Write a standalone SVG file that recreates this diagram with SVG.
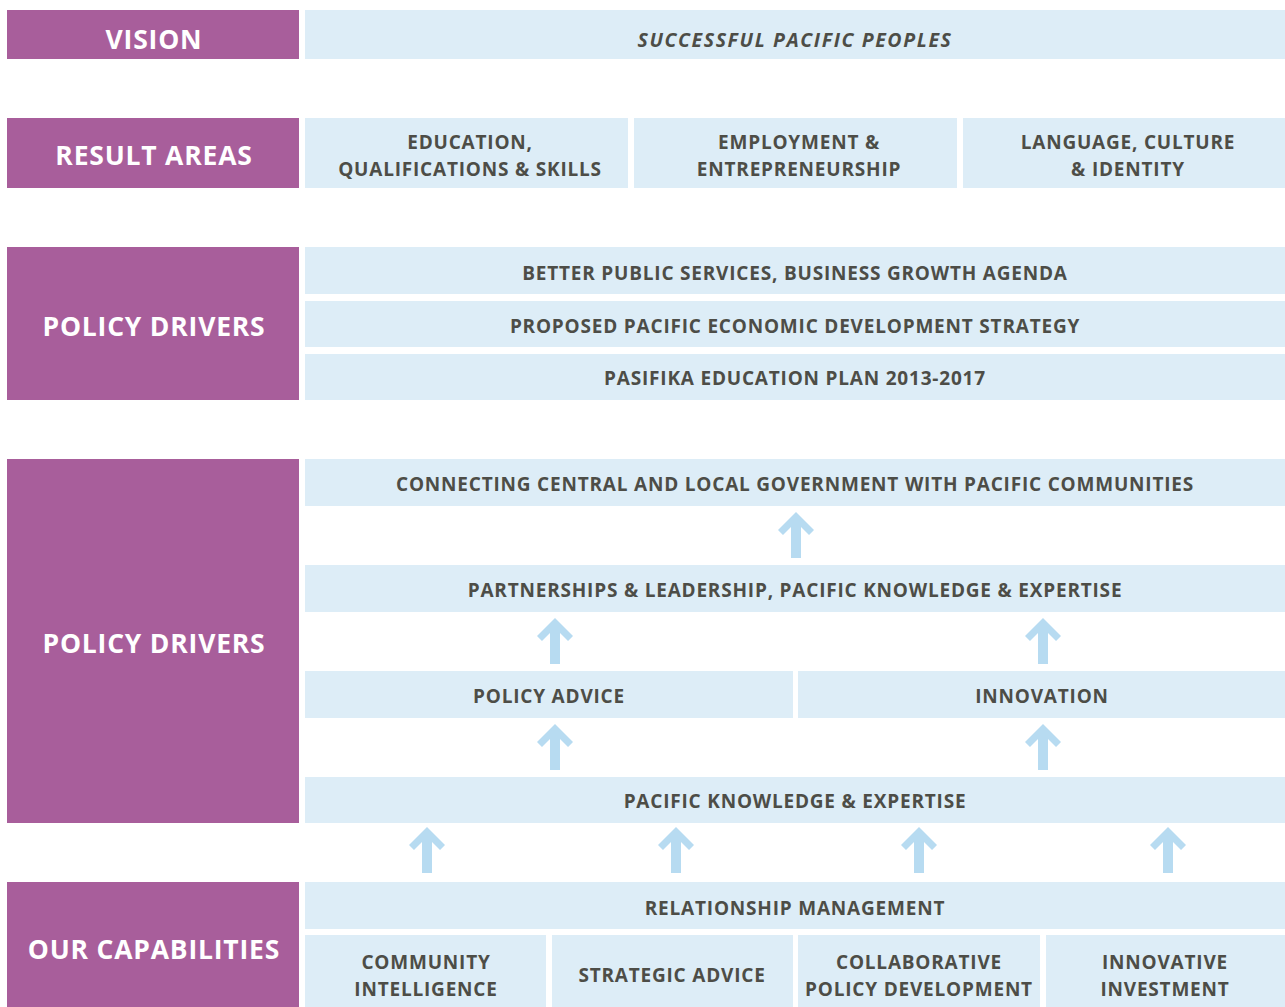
<svg xmlns="http://www.w3.org/2000/svg" width="1285" height="1007" viewBox="0 0 1285 1007">
<defs>
<style>
.lab{fill:#a85e9b}
.box{fill:#ddedf7}
.lt{font-family:"Open Sans","Liberation Sans",sans-serif;font-weight:700;font-size:26.5px;fill:#ffffff;text-anchor:middle;letter-spacing:0.8px}
.bt{font-family:"Open Sans","Liberation Sans",sans-serif;font-weight:700;font-size:19px;fill:#4d4d47;text-anchor:middle;letter-spacing:0.8px}
.it{font-style:italic;font-size:19.5px;letter-spacing:1.6px}
.arr{fill:#b7dbf1}
</style>
<polygon id="arrow" points="0,0 18,18 13,23 5,15 5,46 -5,46 -5,15 -13,23 -18,18"/>
</defs>
<rect width="1285" height="1007" fill="#ffffff"/>

<g id="vision">
<rect class="lab" x="7" y="10" width="292" height="49"/>
<text class="lt" x="154" y="49">VISION</text>
</g>
<g id="successful">
<rect class="box" x="305" y="10" width="980" height="49"/>
<text class="bt it" x="795" y="47">SUCCESSFUL PACIFIC PEOPLES</text>
</g>

<g id="result-areas">
<rect class="lab" x="7" y="118" width="292" height="70"/>
<text class="lt" x="154" y="165">RESULT AREAS</text>
</g>
<g id="education">
<rect class="box" x="305" y="118" width="323" height="70"/>
<text class="bt" x="470" y="149">EDUCATION,</text>
<text class="bt" x="470" y="176">QUALIFICATIONS &amp; SKILLS</text>
</g>
<g id="employment">
<rect class="box" x="634" y="118" width="323" height="70"/>
<text class="bt" x="799" y="149">EMPLOYMENT &amp;</text>
<text class="bt" x="799" y="176">ENTREPRENEURSHIP</text>
</g>
<g id="language">
<rect class="box" x="963" y="118" width="322" height="70"/>
<text class="bt" x="1128" y="149">LANGUAGE, CULTURE</text>
<text class="bt" x="1128" y="176">&amp; IDENTITY</text>
</g>

<g id="policy-drivers-1">
<rect class="lab" x="7" y="247" width="292" height="153"/>
<text class="lt" x="154" y="336">POLICY DRIVERS</text>
</g>
<g id="better-public">
<rect class="box" x="305" y="247" width="980" height="47"/>
<text class="bt" x="795" y="280">BETTER PUBLIC SERVICES, BUSINESS GROWTH AGENDA</text>
</g>
<g id="proposed">
<rect class="box" x="305" y="301" width="980" height="46"/>
<text class="bt" x="795" y="333">PROPOSED PACIFIC ECONOMIC DEVELOPMENT STRATEGY</text>
</g>
<g id="pasifika">
<rect class="box" x="305" y="354" width="980" height="46"/>
<text class="bt" x="795" y="385">PASIFIKA EDUCATION PLAN 2013-2017</text>
</g>

<g id="policy-drivers-2">
<rect class="lab" x="7" y="459" width="292" height="364"/>
<text class="lt" x="154" y="653">POLICY DRIVERS</text>
</g>
<g id="connecting">
<rect class="box" x="305" y="459" width="980" height="47"/>
<text class="bt" x="795" y="491">CONNECTING CENTRAL AND LOCAL GOVERNMENT WITH PACIFIC COMMUNITIES</text>
</g>
<g id="partnerships">
<rect class="box" x="305" y="565" width="980" height="47"/>
<text class="bt" x="795" y="597">PARTNERSHIPS &amp; LEADERSHIP, PACIFIC KNOWLEDGE &amp; EXPERTISE</text>
</g>
<g id="policy-advice">
<rect class="box" x="305" y="671" width="488" height="47"/>
<text class="bt" x="549" y="703">POLICY ADVICE</text>
</g>
<g id="innovation">
<rect class="box" x="798" y="671" width="487" height="47"/>
<text class="bt" x="1042" y="703">INNOVATION</text>
</g>
<g id="pacific-knowledge">
<rect class="box" x="305" y="777" width="980" height="46"/>
<text class="bt" x="795" y="808">PACIFIC KNOWLEDGE &amp; EXPERTISE</text>
</g>

<g id="our-capabilities">
<rect class="lab" x="7" y="882" width="292" height="125"/>
<text class="lt" x="154" y="959">OUR CAPABILITIES</text>
</g>
<g id="relationship">
<rect class="box" x="305" y="882" width="980" height="47"/>
<text class="bt" x="795" y="915">RELATIONSHIP MANAGEMENT</text>
</g>
<g id="community">
<rect class="box" x="305" y="935" width="241" height="72"/>
<text class="bt" x="426" y="969">COMMUNITY</text>
<text class="bt" x="426" y="996">INTELLIGENCE</text>
</g>
<g id="strategic">
<rect class="box" x="552" y="935" width="241" height="72"/>
<text class="bt" x="672" y="982">STRATEGIC ADVICE</text>
</g>
<g id="collaborative">
<rect class="box" x="798" y="935" width="242" height="72"/>
<text class="bt" x="919" y="969">COLLABORATIVE</text>
<text class="bt" x="919" y="996">POLICY DEVELOPMENT</text>
</g>
<g id="innovative">
<rect class="box" x="1046" y="935" width="239" height="72"/>
<text class="bt" x="1165" y="969">INNOVATIVE</text>
<text class="bt" x="1165" y="996">INVESTMENT</text>
</g>

<g id="connectors" class="arr">
<use href="#arrow" x="796" y="512"/>
<use href="#arrow" x="555" y="618"/>
<use href="#arrow" x="1043" y="618"/>
<use href="#arrow" x="555" y="724"/>
<use href="#arrow" x="1043" y="724"/>
<use href="#arrow" x="427" y="827"/>
<use href="#arrow" x="676" y="827"/>
<use href="#arrow" x="919" y="827"/>
<use href="#arrow" x="1168" y="827"/>
</g>
</svg>
